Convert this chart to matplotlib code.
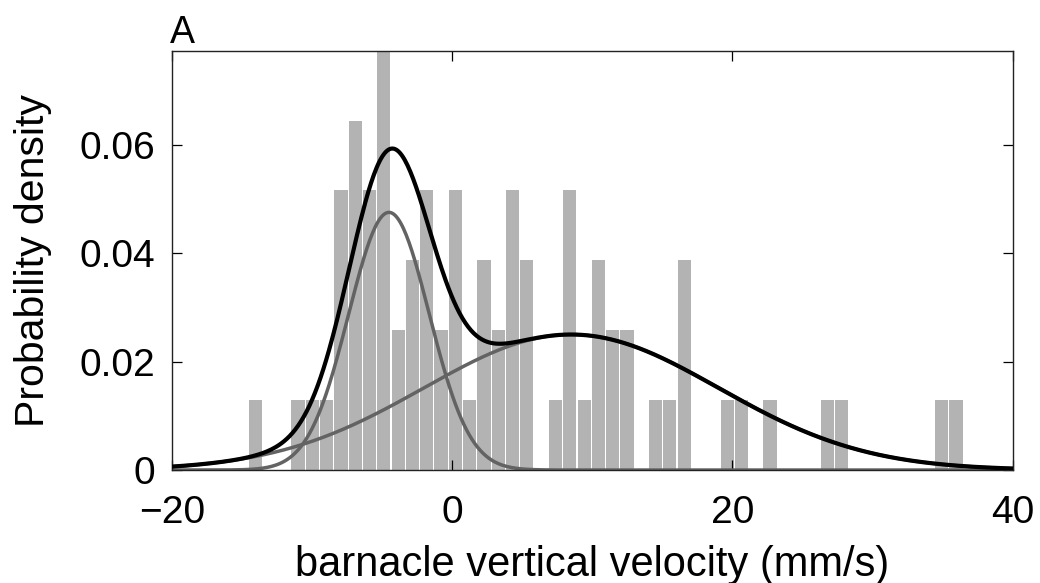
import numpy as np
import matplotlib
matplotlib.use("Agg")
import matplotlib.pyplot as plt

# ---- data ----
bin_min = -14.56
bin_max = 36.46
counts = [1, 0, 0, 1, 1, 1, 4, 5, 4, 6,
          2, 3, 4, 2, 4, 1, 3, 2, 4, 3,
          0, 1, 4, 1, 3, 2, 2, 0, 1, 1,
          3, 0, 0, 1, 1, 0, 1, 0, 0, 0,
          1, 1, 0, 0, 0, 0, 0, 0, 1, 1]
comp_weights = [0.342, 0.658]
comp_means = [-4.5, 8.5]
comp_sigmas = [2.87, 10.5]
xticks = [-20, 0, 20, 40]
yticks = [0, 0.02, 0.04, 0.06]
ytick_labels = ["0", "0.02", "0.04", "0.06"]

plt.rcParams['font.family'] = ['Liberation Sans', 'DejaVu Sans']

fig = plt.figure(figsize=(10.4, 5.83), dpi=100)
ax = fig.add_axes([0.1651, 0.1938, 0.9738 - 0.1651, 0.913 - 0.1938])

counts = np.array(counts, dtype=float)
nb = len(counts)
edges = np.linspace(bin_min, bin_max, nb + 1)
w = edges[1] - edges[0]
centers = (edges[:-1] + edges[1:]) / 2
N = counts.sum()
dens = counts / (N * w)
ax.bar(centers, dens, width=w * 0.92, color='#b3b3b3', edgecolor='none', zorder=1)

x = np.linspace(-20, 40, 600)
def gauss(x, m, s):
    return np.exp(-(x - m) ** 2 / (2 * s ** 2)) / (s * np.sqrt(2 * np.pi))
c1 = comp_weights[0] * gauss(x, comp_means[0], comp_sigmas[0])
c2 = comp_weights[1] * gauss(x, comp_means[1], comp_sigmas[1])
ax.plot(x, c2, color='#636363', lw=2.5, zorder=2)
ax.plot(x, c1, color='#636363', lw=2.5, zorder=2)
ax.plot(x, c1 + c2, color='black', lw=3.0, zorder=3)

ax.set_xlim(-20, 40)
ax.set_ylim(0, 6 / (N * w))
ax.set_xticks(xticks)
ax.set_xticklabels([("\u2212" + str(-t)) if t < 0 else str(t) for t in xticks])
ax.set_yticks(yticks)
ax.set_yticklabels(ytick_labels)
ax.tick_params(direction='in', length=7, width=0.9, top=True, right=True,
               labelsize=28, pad=12, colors='black')
ax.tick_params(axis='x', pad=18)
for sp in ax.spines.values():
    sp.set_linewidth(1.0)
    sp.set_color('#222222')
ax.set_xlabel("barnacle vertical velocity (mm/s)", fontsize=30, labelpad=10)
ax.set_ylabel("Probability density", fontsize=29.5, labelpad=20)
fig.text(0.163, 1 - 43 / 583, "A", fontsize=27, ha='left', va='baseline')

fig.savefig("out.png", dpi=100)
